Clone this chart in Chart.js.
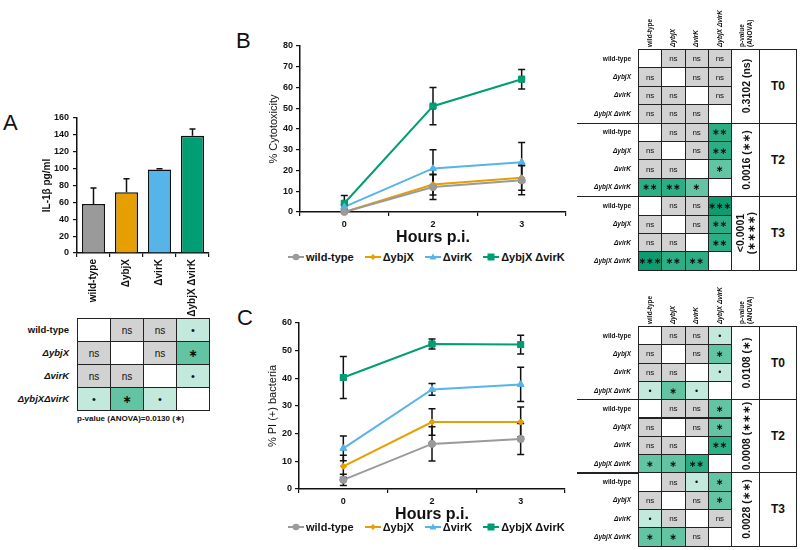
<!DOCTYPE html>
<html><head><meta charset="utf-8">
<script src="https://cdn.jsdelivr.net/npm/chart.js@4.4.0/dist/chart.umd.min.js"></script>
<style>
body{margin:0;width:800px;height:550px;background:#fff;position:relative;overflow:hidden;font-family:"Liberation Sans",Arial,sans-serif;color:#111;}
canvas{position:absolute;}
.letter{position:absolute;font-size:22px;line-height:22px;}
.cell{position:absolute;box-sizing:border-box;border:1px solid #222;display:flex;align-items:center;justify-content:center;color:#111;}
.rl{position:absolute;text-align:right;font-weight:bold;display:flex;align-items:center;justify-content:flex-end;white-space:nowrap;}
.hd{position:absolute;font-weight:bold;white-space:pre;transform-origin:0 0;transform:rotate(-90deg);}
.rot{position:absolute;left:50%;top:50%;transform:translate(-50%,-50%) rotate(-90deg);white-space:pre;text-align:center;font-weight:bold;}
.legend{position:absolute;display:flex;align-items:center;font-weight:bold;font-size:11px;white-space:nowrap;}
.legend span.it{display:flex;align-items:center;margin-right:11px;}
.legend svg{margin-right:2px;}
.ast{font-family:"DejaVu Sans",sans-serif;font-weight:bold;}
</style></head><body>
<div class="letter" style="left:3px;top:112px;">A</div>
<div class="letter" style="left:236px;top:30px;">B</div>
<div class="letter" style="left:237px;top:307px;">C</div>
<canvas id="cA" width="200" height="210" style="left:20px;top:108px;"></canvas>
<canvas id="cB" width="330" height="211" style="left:250px;top:36px;"></canvas>
<canvas id="cC" width="330" height="211" style="left:249px;top:313px;"></canvas>
<div id="legB" class="legend" style="left:288px;top:250px;height:14px;"></div>
<div id="legC" class="legend" style="left:288px;top:520px;height:14px;"></div>
<div id="tabs"></div>
<script>
// ---------- data ----------
const strains = ['wild-type', 'ΔybjX', 'ΔvirK', 'ΔybjX ΔvirK'];
const strainsA = ['wild-type', 'ΔybjX', 'ΔvirK', 'ΔybjXΔvirK'];
const colors = ['#9a9a9a', '#E69F00', '#56B4E9', '#009E73'];
// Panel A: IL-1β
const il1bMeans = [58, 72, 99, 139];
const il1bErr = [19, 16, 1, 8];
const il1bTicks = [0, 20, 40, 60, 80, 100, 120, 140, 160];
const il1bSig = [
  ['', 'ns', 'ns', '•'],
  ['ns', '', 'ns', '∗'],
  ['ns', 'ns', '', '•'],
  ['•', '∗', '•', '']
];
const il1bP = 'p-value (ANOVA)=0.0130 (∗)';
// Panel B: cytotoxicity
const hours = ['0', '2', '3'];
const cytoWT = [0, 12, 15.3];
const cytoYbjX = [0, 13.2, 16.5];
const cytoVirK = [2.5, 21, 24];
const cytoDouble = [4.2, 51, 64];
const cytoWTErr = [0.3, 6, 7];
const cytoYbjXErr = [0.3, 5, 6];
const cytoVirKErr = [1, 9, 9.5];
const cytoDoubleErr = [3.7, 9, 4.7];
const cytoSigT0 = [['', 'ns', 'ns', 'ns'], ['ns', '', 'ns', 'ns'], ['ns', 'ns', '', 'ns'], ['ns', 'ns', 'ns', '']];
const cytoSigT2 = [['', 'ns', 'ns', '∗∗'], ['ns', '', 'ns', '∗∗'], ['ns', 'ns', '', '∗'], ['∗∗', '∗∗', '∗', '']];
const cytoSigT3 = [['', 'ns', 'ns', '∗∗∗'], ['ns', '', 'ns', '∗∗'], ['ns', 'ns', '', '∗∗'], ['∗∗∗', '∗∗', '∗∗', '']];
const cytoP = ['0.3102 (ns)', '0.0016 (∗∗)', '<0.0001\n(∗∗∗∗)'];
// Panel C: PI(+) bacteria
const piWT = [3.3, 16.3, 18.1];
const piYbjX = [8.2, 24.2, 24.2];
const piVirK = [14.7, 36, 37.8];
const piDouble = [40.3, 52.4, 52.2];
const piWTErr = [2, 6.2, 5.6];
const piYbjXErr = [4, 4.8, 5.4];
const piVirKErr = [4.5, 2.1, 6.2];
const piDoubleErr = [7.6, 1.8, 3.4];
const piSigT0 = [['', 'ns', 'ns', '•'], ['ns', '', 'ns', '∗'], ['ns', 'ns', '', '•'], ['•', '∗', '•', '']];
const piSigT2 = [['', 'ns', 'ns', '∗'], ['ns', '', 'ns', '∗'], ['ns', 'ns', '', '∗∗'], ['∗', '∗', '∗∗', '']];
const piSigT3 = [['', 'ns', '•', '∗'], ['ns', '', 'ns', '∗'], ['•', 'ns', '', 'ns'], ['∗', '∗', 'ns', '']];
const piP = ['0.0108 (∗)', '0.0008 (∗∗∗)', '0.0028 (∗∗)'];
const timeLabels = ['T0', 'T2', 'T3'];

// ---------- styling ----------
const sigFill = {'': '#ffffff', 'ns': '#d2d2d2', '•': '#c3e9dc', '∗': '#62c4a2', '∗∗': '#2cae85', '∗∗∗': '#0d9c70'};
const ptStyles = ['circle', 'rectRot', 'triangle', 'rect'];
const ptRadius = [3.5, 3, 3.8, 4.2];

Chart.defaults.font.family = "'Liberation Sans', Arial, sans-serif";
Chart.defaults.color = '#111';
Chart.defaults.animation = false;

const errPlugin = {
  id: 'errbars',
  afterDatasetsDraw(chart) {
    const ctx = chart.ctx, ys = chart.scales.y;
    chart.data.datasets.forEach((ds, i) => {
      if (!ds.errors) return;
      const meta = chart.getDatasetMeta(i);
      meta.data.forEach((el, j) => {
        const e = ds.errors[j], v = ds.data[j];
        const x = el.x;
        const yT = ys.getPixelForValue(v + e);
        const yB = ds.errUp ? ys.getPixelForValue(v) : ys.getPixelForValue(v - e);
        const cap = ds.capW || 3.5;
        ctx.save();
        ctx.strokeStyle = '#111'; ctx.lineWidth = 1.5;
        ctx.beginPath();
        ctx.moveTo(x, yT); ctx.lineTo(x, yB);
        ctx.moveTo(x - cap, yT); ctx.lineTo(x + cap, yT);
        if (!ds.errUp) { ctx.moveTo(x - cap, yB); ctx.lineTo(x + cap, yB); }
        ctx.stroke();
        ctx.restore();
      });
    });
  }
};
const redrawPoints = {
  id: 'redrawPts',
  afterDatasetsDraw(chart) {
    for (let i = chart.data.datasets.length - 1; i >= 0; i--) {
      const meta = chart.getDatasetMeta(i);
      if (meta.type !== 'line') continue;
      meta.data.forEach(p => p.draw(chart.ctx, chart.chartArea));
    }
  }
};

const axisCommon = (extra) => Object.assign({
  grid: {drawOnChartArea: false, tickLength: 4, color: '#111', lineWidth: 1.2},
  border: {color: '#111', width: 1.5}
}, extra);

// Panel A chart
new Chart(document.getElementById('cA'), {
  type: 'bar',
  data: {labels: strains, datasets: [{
    data: il1bMeans, errors: il1bErr, errUp: true, capW: 3,
    backgroundColor: colors, borderColor: '#111', borderWidth: 1.5,
    barPercentage: 0.7, categoryPercentage: 1.0
  }]},
  options: {
    responsive: false, animation: false,
    layout: {padding: {top: 10, right: 11, left: 0, bottom: 0}},
    plugins: {legend: {display: false}, tooltip: {enabled: false}},
    scales: {
      x: axisCommon({
        grid: {offset: true, drawOnChartArea: false, tickLength: 4, color: '#111', lineWidth: 1.2},
        ticks: {minRotation: 90, maxRotation: 90, autoSkip: false, font: {size: 10, weight: 'bold'}, padding: 2},
        afterFit: s => { s.height = 65; }
      }),
      y: axisCommon({
        min: 0, max: 160,
        afterBuildTicks: s => { s.ticks = il1bTicks.map(v => ({value: v})); },
        ticks: {font: {size: 9, weight: 'bold'}, padding: 4},
        title: {display: true, text: 'IL-1β pg/ml', font: {size: 10, weight: 'bold'}, padding: {top: 21, bottom: 0}},
        afterFit: s => { s.width = 57; }
      })
    }
  },
  plugins: [errPlugin]
});

function lineChart(id, ymax, series, errs, ytitle) {
  const ticks = [];
  for (let v = 0; v <= ymax; v += 10) ticks.push(v);
  new Chart(document.getElementById(id), {
    type: 'line',
    data: {labels: hours, datasets: strains.map((s, i) => ({
      label: s, data: series[i], errors: errs[i],
      borderColor: colors[i], backgroundColor: colors[i],
      pointStyle: ptStyles[i], pointRadius: ptRadius[i], pointBorderWidth: 1,
      borderWidth: 2, tension: 0
    }))},
    options: {
      responsive: false, animation: false,
      layout: {padding: {top: 10, right: 14, left: 0, bottom: 0}},
      plugins: {legend: {display: false}, tooltip: {enabled: false}},
      scales: {
        x: axisCommon({
          offset: true,
          grid: {offset: true, drawOnChartArea: false, tickLength: 4, color: '#111', lineWidth: 1.2},
          ticks: {font: {size: 9, weight: 'bold'}, padding: 3},
          title: {display: true, text: 'Hours p.i.', font: {size: 16, weight: 'bold'}, padding: {top: 0, bottom: 0}},
          afterFit: s => { s.height = 35; }
        }),
        y: axisCommon({
          min: 0, max: ymax,
          afterBuildTicks: s => { s.ticks = ticks.map(v => ({value: v})); },
          ticks: {font: {size: 9, weight: 'bold'}, padding: 3},
          title: {display: true, text: ytitle, font: {size: 11}, padding: {top: 17, bottom: 0}},
          afterFit: s => { s.width = 50; }
        })
      }
    },
    plugins: [errPlugin, redrawPoints]
  });
}
lineChart('cB', 80, [cytoWT, cytoYbjX, cytoVirK, cytoDouble], [cytoWTErr, cytoYbjXErr, cytoVirKErr, cytoDoubleErr], '% Cytotoxicity');
lineChart('cC', 60, [piWT, piYbjX, piVirK, piDouble], [piWTErr, piYbjXErr, piVirKErr, piDoubleErr], '% PI (+) bacteria');

// ---------- legends ----------
function markerSVG(i) {
  const c = colors[i];
  let m = '';
  if (i === 0) m = `<circle cx="8" cy="5" r="3.3" fill="${c}"/>`;
  if (i === 1) m = `<polygon points="8,2 11,5 8,8 5,5" fill="${c}"/>`;
  if (i === 2) m = `<polygon points="8,1.5 11.5,7.5 4.5,7.5" fill="${c}"/>`;
  if (i === 3) m = `<rect x="4.5" y="1.5" width="7" height="7" fill="${c}"/>`;
  return `<svg width="16" height="10"><line x1="0" y1="5" x2="16" y2="5" stroke="${c}" stroke-width="2"/>${m}</svg>`;
}
function buildLegend(id) {
  const el = document.getElementById(id);
  el.innerHTML = strains.map((s, i) => `<span class="it">${markerSVG(i)}<span>${s}</span></span>`).join('');
}
buildLegend('legB'); buildLegend('legC');

// ---------- significance tables ----------
const tabs = document.getElementById('tabs');
function add(html) { tabs.insertAdjacentHTML('beforeend', html); }
function cellHTML(x, y, w, h, code, fs) {
  const isAst = code.indexOf('∗') >= 0;
  const txt = code === '' ? '' : code;
  const cls = isAst ? 'ast' : '';
  const size = isAst ? fs + 1 : (code === '•' ? fs + 1 : fs);
  return `<div class="cell" style="left:${x}px;top:${y}px;width:${w + 1}px;height:${h + 1}px;background:${sigFill[code]};font-size:${size}px;"><span class="${cls}">${txt}</span></div>`;
}
function buildMatrix(opts) {
  const {colX, top, rowH, groups, labels, labelRight, labelFs, cellFs, pX, pvals, tX, sepLeft, headers, headerFs} = opts;
  groups.forEach((g, gi) => {
    const gTop = top + gi * 4 * rowH;
    labels.forEach((s, ri) => {
      const y = gTop + ri * rowH;
      add(`<div class="rl" style="left:${labelRight - 100}px;width:100px;top:${y}px;height:${rowH}px;font-size:${labelFs}px;font-style:${ri > 0 ? 'italic' : 'normal'};">${s}</div>`);
      for (let ci = 0; ci < 4; ci++) {
        add(cellHTML(colX[ci], y, colX[ci + 1] - colX[ci], rowH, g[ri][ci], cellFs));
      }
    });
    if (pX) {
      add(`<div class="cell" style="left:${pX[0]}px;top:${gTop}px;width:${pX[1] - pX[0] + 1}px;height:${4 * rowH + 1}px;background:#fff;border-width:1.5px;"><div class="rot" style="font-size:10.5px;line-height:11px;">${pvals[gi].replace(/∗/g, '<span class="ast">∗</span>')}</div></div>`);
      add(`<div class="cell" style="left:${tX[0]}px;top:${gTop}px;width:${tX[1] - tX[0] + 1}px;height:${4 * rowH + 1}px;background:#fff;font-weight:bold;font-size:12px;border-width:1.5px;">${timeLabels[gi]}</div>`);
    }
    if (sepLeft !== undefined && gi > 0) {
      add(`<div style="position:absolute;left:${sepLeft}px;top:${gTop}px;width:${colX[0] - sepLeft}px;height:1.2px;background:#222;"></div>`);
    }
  });
  if (headers) {
    const lh = headerFs + 1;
    headers.forEach((h, hi) => {
      const cx = hi < 4 ? (colX[hi] + colX[hi + 1]) / 2 : (pX[0] + pX[1]) / 2;
      const lines = h.split('\n').length;
      add(`<div class="hd" style="left:${cx - lines * lh / 2}px;top:${top - 2}px;font-size:${headerFs}px;line-height:${lh}px;font-style:${hi > 0 && hi < 4 ? 'italic' : 'normal'};">${h}</div>`);
    });
  }
}
const rightCols = [638, 661.25, 684.5, 707.75, 731];
const headersR = strains.concat(['p-value\n(ANOVA)']);
buildMatrix({colX: rightCols, top: 49, rowH: 18.4, groups: [cytoSigT0, cytoSigT2, cytoSigT3], labels: strains,
  labelRight: 631, labelFs: 6.5, cellFs: 8, pX: [731, 759], pvals: cytoP, tX: [759, 796], sepLeft: 577, headers: headersR, headerFs: 6.5});
buildMatrix({colX: rightCols, top: 326, rowH: 18.3, groups: [piSigT0, piSigT2, piSigT3], labels: strains,
  labelRight: 631, labelFs: 6.5, cellFs: 8, pX: [731, 759], pvals: piP, tX: [759, 796], sepLeft: 577, headers: headersR, headerFs: 6.5});
buildMatrix({colX: [77, 110, 143, 176, 209], top: 318, rowH: 23, groups: [il1bSig], labels: strainsA,
  labelRight: 69, labelFs: 9.5, cellFs: 10});
add(`<div style="position:absolute;left:77px;top:414px;font-size:8px;font-weight:bold;white-space:nowrap;">${il1bP.replace(/∗/g, '<span class="ast">∗</span>')}</div>`);
</script>
</body></html>
